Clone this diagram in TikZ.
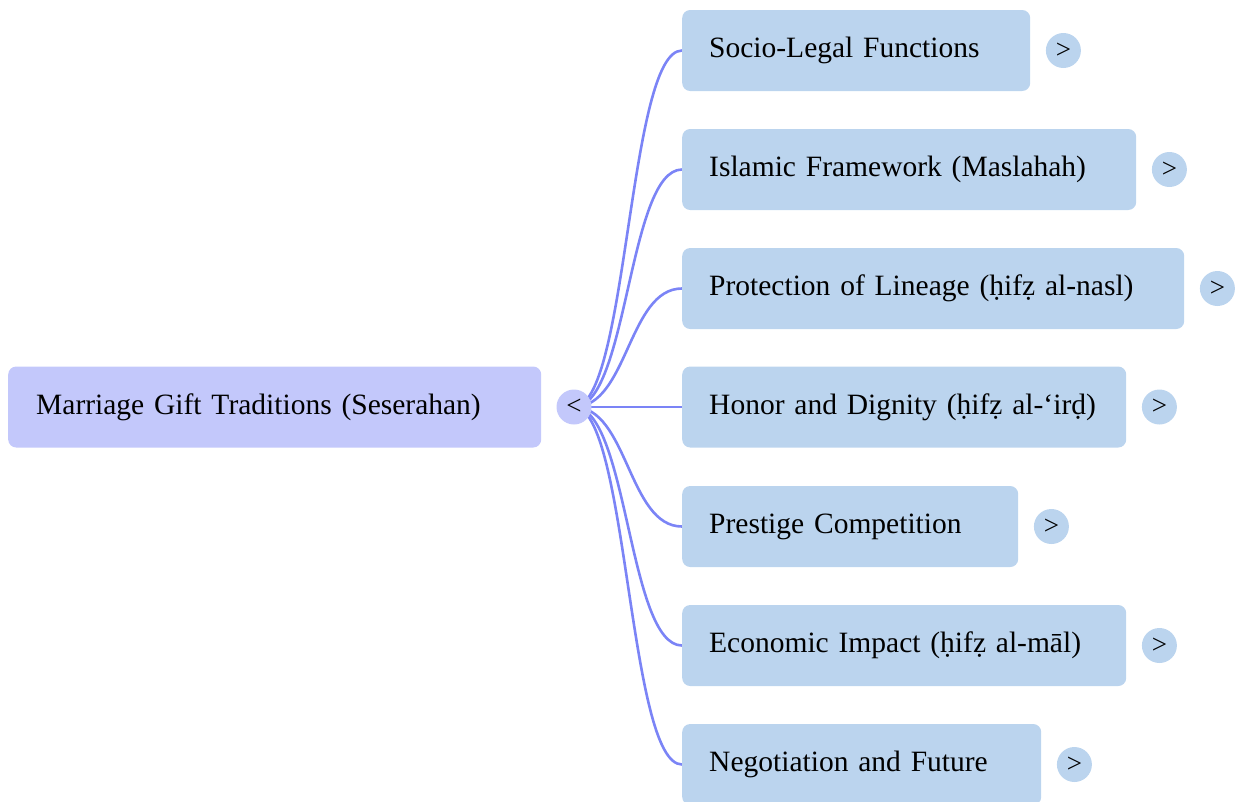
\documentclass[tikz,border=0pt]{standalone}
\usepackage{fontspec}
\setmainfont[WordSpace=0.85]{Liberation Serif}
\usetikzlibrary{calc,backgrounds}
\definecolor{rootfill}{HTML}{C3C8FB}
\definecolor{childfill}{HTML}{BBD4EE}
\definecolor{linkc}{HTML}{7B84F6}
\begin{document}
\begin{tikzpicture}[x=1pt,y=-1pt,
  font=\fontsize{29.5}{34}\selectfont,
  rootbox/.style={fill=rootfill, rounded corners=8pt, minimum height=81pt, inner xsep=28pt, inner ysep=0pt, anchor=west, align=left},
  childbox/.style={fill=childfill, rounded corners=8pt, minimum height=81pt, inner xsep=27pt, inner ysep=0pt, anchor=west, align=left},
  knob/.style={circle, minimum size=35pt, inner sep=0pt, font=\fontsize{27}{30}\selectfont},
  link/.style={draw=linkc, line width=2.6pt, to path={let \p1=(\tikztostart), \p2=(\tikztotarget) in .. controls ({(\x1+\x2)/2},\y1) and ({(\x1+\x2)/2},\y2) .. (\tikztotarget)}}]
\useasboundingbox (0,0) rectangle (1238,801);
\node[rootbox, text width=477pt] (root) at (8,407) {Marriage Gift Traditions (Seserahan)};
\node[knob, fill=rootfill] (rc) at (574,407) {<};
\node[childbox, text width=294pt] (c1) at (682,50.5) {Socio-Legal Functions};
\node[childbox, text width=400pt] (c2) at (682,169.5) {Islamic Framework (Maslahah)};
\node[childbox, text width=448pt] (c3) at (682,288.5) {Protection of Lineage (ḥifẓ al-nasl)};
\node[childbox, text width=390pt] (c4) at (682,407) {Honor and Dignity (ḥifẓ al-‘irḍ)};
\node[childbox, text width=282pt] (c5) at (682,526.5) {Prestige Competition};
\node[childbox, text width=390pt] (c6) at (682,645.5) {Economic Impact (ḥifẓ al-māl)};
\node[childbox, text width=305pt] (c7) at (682,764.5) {Negotiation and Future};
\foreach \i in {1,...,7}{
  \node[knob, fill=childfill] (k\i) at ([xshift=33pt]c\i.east) {>};
}
\begin{scope}[on background layer]
\foreach \i in {1,...,7}{
  \draw[link] (rc.center) to (c\i.west);
}
\end{scope}
\end{tikzpicture}
\end{document}
